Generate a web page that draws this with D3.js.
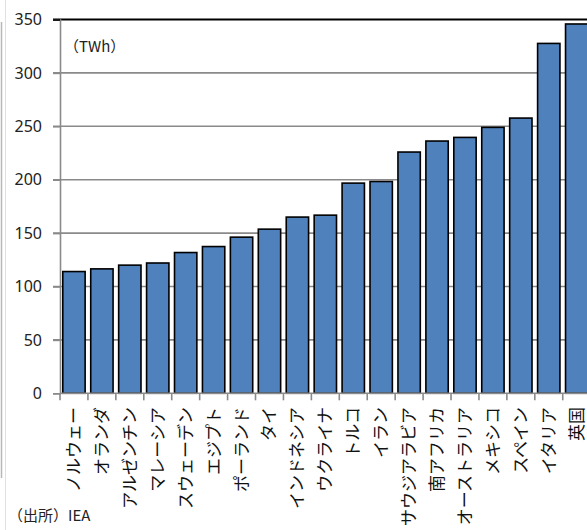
<!DOCTYPE html>
<html><head><meta charset="utf-8">
<script src="https://cdn.jsdelivr.net/npm/d3@7"></script>
<style>
html,body{margin:0;padding:0;background:#fff;overflow:hidden;}
svg{display:block;}
</style></head>
<body>
<script>
const countries = ["ノルウェー","オランダ","アルゼンチン","マレーシア","スウェーデン","エジプト","ポーランド","タイ","インドネシア","ウクライナ","トルコ","イラン","サウジアラビア","南アフリカ","オーストラリア","メキシコ","スペイン","イタリア","英国"];
const values = [114,116.5,120,122,131.8,137.4,146.2,153.7,165,166.8,196.8,198.3,225.9,236.2,239.6,249,257.7,327.6,345.8];
const yTicks = [0,50,100,150,200,250,300,350];
const unitLabel = "（TWh）";
const sourceLabel = "（出所）IEA";

const W = 587, H = 530;
const svg = d3.select("body").append("svg").attr("width", W).attr("height", H);

const x0 = 60, step = 27.93;
const x = d3.scaleBand().domain(countries).range([x0, x0 + step * countries.length]).paddingInner(0.2).paddingOuter(0.1);
const y = d3.scaleLinear().domain([0, 350]).range([393.3, 19.5]);

// frame lines at left edge
svg.append("line").attr("x1",1.5).attr("x2",1.5).attr("y1",22).attr("y2",478).attr("stroke","#b8b8b8").attr("stroke-width",1.5);
svg.append("line").attr("x1",5.5).attr("x2",5.5).attr("y1",0).attr("y2",H).attr("stroke","#e0e0e0").attr("stroke-width",1);

// gridlines
svg.append("g").selectAll("line").data(yTicks.filter(t => t > 0)).join("line")
  .attr("x1", 53).attr("x2", W)
  .attr("y1", d => y(d)).attr("y2", d => y(d))
  .attr("stroke", d => d === 350 ? "#000" : "#8a8a8a")
  .attr("stroke-width", d => d === 350 ? 2 : 1.6);

// y axis
const yAxis = d3.axisLeft(y).tickValues(yTicks).tickSize(7).tickPadding(11);
const gy = svg.append("g").attr("transform", `translate(${x0},0)`).call(yAxis);
gy.select(".domain").attr("stroke", "#8a8a8a").attr("stroke-width", 1.6);
gy.selectAll(".tick line").attr("stroke", d => d === 350 ? "#000" : "#8a8a8a").attr("stroke-width", 1.6);
gy.selectAll(".tick text").attr("font-family", "'Noto Sans', 'DejaVu Sans', sans-serif").attr("font-size", 16).attr("fill", "#222");

// bars
svg.append("g").selectAll("rect").data(countries).join("rect")
  .attr("x", d => x(d))
  .attr("width", x.bandwidth())
  .attr("y", (d, i) => y(values[i]))
  .attr("height", (d, i) => y(0) - y(values[i]))
  .attr("fill", "#4f81bd")
  .attr("stroke", "#000")
  .attr("stroke-width", 1.6);

// x axis baseline and ticks at band boundaries
const boundaries = d3.range(countries.length + 1).map(i => x0 + i * step);
svg.append("line").attr("x1", x0).attr("x2", W).attr("y1", y(0)).attr("y2", y(0)).attr("stroke", "#8a8a8a").attr("stroke-width", 1.6);
svg.append("g").selectAll("line").data(boundaries).join("line")
  .attr("x1", d => d).attr("x2", d => d).attr("y1", y(0)).attr("y2", y(0) + 7)
  .attr("stroke", "#8a8a8a").attr("stroke-width", 1.6);

// x labels rotated
svg.append("g").selectAll("text").data(countries).join("text")
  .attr("transform", d => `translate(${x(d) + x.bandwidth()/2 + 6},407) rotate(-90)`)
  .attr("text-anchor", "end")
  .attr("font-family", "'Noto Sans CJK JP', sans-serif")
  .attr("font-size", 17)
  .attr("fill", "#111")
  .text(d => d);

svg.append("text").attr("x", 64).attr("y", 52).attr("font-family", "'Noto Sans CJK JP', sans-serif").attr("font-size", 15).attr("fill", "#222").text(unitLabel);
svg.append("text").attr("x", 8).attr("y", 521).attr("font-family", "'Noto Sans CJK JP', sans-serif").attr("font-size", 15).attr("fill", "#222").text(sourceLabel);
</script>
</body></html>
